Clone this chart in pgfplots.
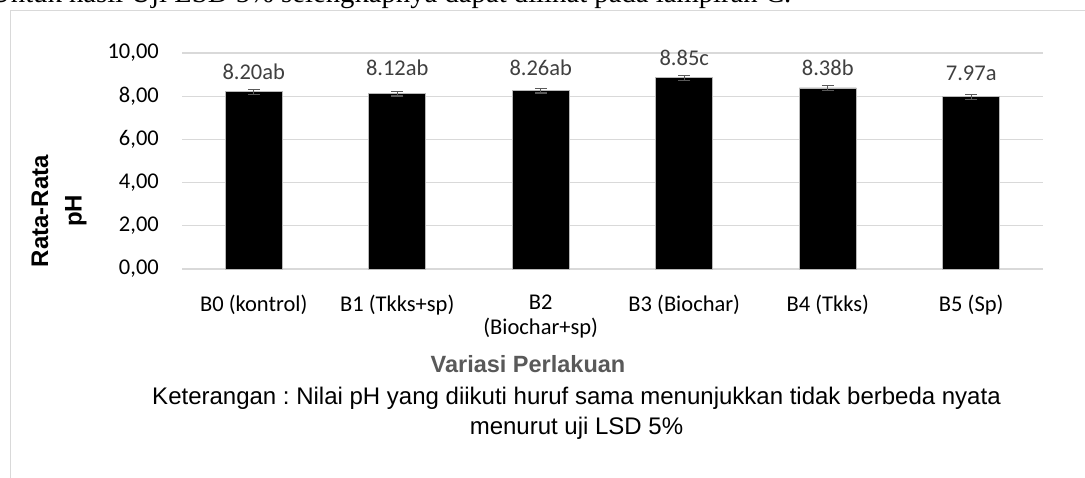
\documentclass[border=0pt]{standalone}
\usepackage{pgfplots}
\pgfplotsset{compat=1.18}
\usepackage{fontspec}
\setmainfont{Carlito}
\newfontfamily\arialf{Liberation Sans}
\newfontfamily\seriff{Liberation Serif}
\definecolor{gridc}{HTML}{D9D9D9}
\definecolor{valc}{HTML}{404040}
\definecolor{errc}{HTML}{595959}
\definecolor{xlab}{HTML}{595959}
\frenchspacing
\begin{document}
\begin{tikzpicture}
\useasboundingbox (0pt,0pt) rectangle (1085pt,-478pt);
\clip (0pt,0pt) rectangle (1085pt,-478pt);
\fill[white] (0pt,0pt) rectangle (1085pt,-478pt);
\node[anchor=base west, inner sep=0pt, font=\seriff\fontsize{28.7}{32}\selectfont] at (-10pt,-2.2pt) {Untuk hasil Uji LSD 5\% selengkapnya dapat dilihat pada lampiran C.};
\draw[gridc, line width=1.5pt] (10.5pt,-478pt) -- (10.5pt,-10.5pt) -- (1085pt,-10.5pt);
\begin{axis}[
  at={(182pt,-269pt)}, anchor=south west,
  width=861pt, height=216pt, scale only axis,
  xmin=-0.5, xmax=5.5, ymin=0, ymax=10,
  ytick={0,2,...,10},
  xtick={0,...,5},
  xticklabels={B0 (kontrol), B1 (Tkks+sp), B2\\(Biochar+sp), B3 (Biochar), B4 (Tkks), B5 (Sp)},
  xticklabel style={align=center, anchor=north, inner sep=0pt, yshift=-26pt, font=\fontsize{22.5}{24.5}\selectfont, text=black},
  yticklabel style={anchor=east, inner sep=0pt, xshift=-23pt, font=\fontsize{22.5}{24}\selectfont, text=black,
    /pgf/number format/.cd, fixed, fixed zerofill, precision=2, use comma, assume math mode=true},
  ymajorgrids, grid style={gridc, line width=1.3pt},
  axis line style={draw=none}, major tick length=0pt, tick style={draw=none},
  clip=false,
]
\addplot[ybar, bar width=57pt, fill=black, draw=gray!55, line width=0.8pt,
  error bars/.cd, y dir=both, y explicit,
  error bar style={errc, line width=1.2pt},
  error mark options={rotate=90, mark size=6pt, errc, line width=1.2pt},
  ]
  table[x=x, y=y, y error=err] {
x y err
0 8.20 0.12
1 8.12 0.11
2 8.26 0.11
3 8.85 0.12
4 8.38 0.11
5 7.97 0.11
};
% value labels (text layer), placed at the heights where the reference shows them
\addplot[only marks, mark=none, draw=none,
  nodes near coords, point meta=explicit symbolic,
  every node near coord/.style={anchor=center, inner sep=0pt, font=\fontsize{22.5}{24}\selectfont, text=valc}]
  table[x=x, y=ly, meta=lab] {
x ly lab
0 9.14 8.20ab
1 9.32 8.12ab
2 9.33 8.26ab
3 9.78 8.85c
4 9.33 8.38b
5 9.08 7.97a
};
\end{axis}
\node[rotate=90, align=center, font=\arialf\bfseries\fontsize{24}{33.5}\selectfont] at (59pt,-211pt) {Rata-Rata\\pH};
\node[anchor=base, inner sep=0pt, font=\arialf\bfseries\fontsize{23.5}{28}\selectfont, text=xlab] at (528pt,-373pt) {Variasi Perlakuan};
\node[anchor=base, inner sep=0pt, font=\arialf\fontsize{24}{28}\selectfont] at (576.5pt,-404pt) {Keterangan : Nilai pH yang diikuti huruf sama menunjukkan tidak berbeda nyata};
\node[anchor=base, inner sep=0pt, font=\arialf\fontsize{24}{28}\selectfont] at (576.5pt,-434pt) {menurut uji LSD 5\%};
\end{tikzpicture}
\end{document}
